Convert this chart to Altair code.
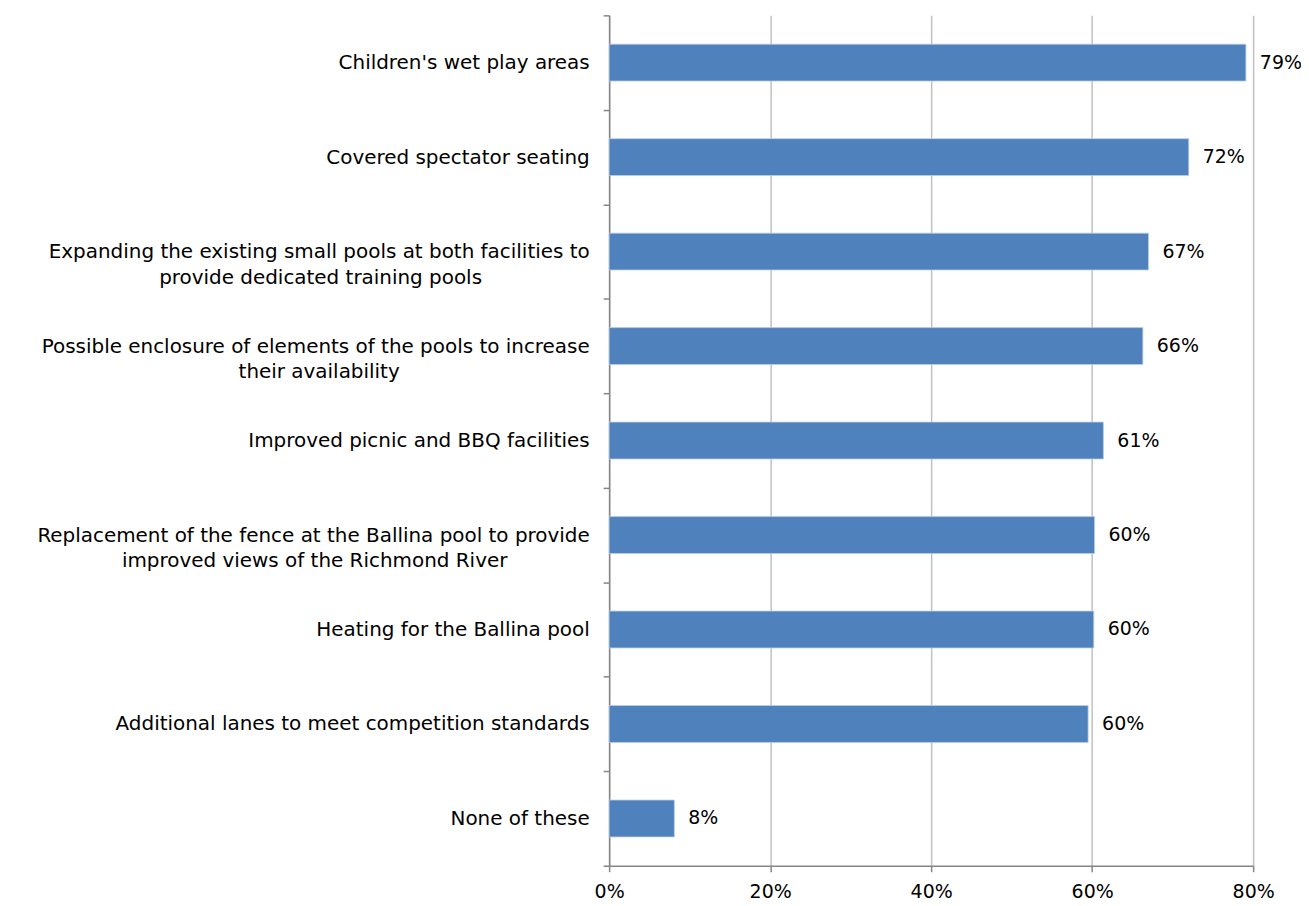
import altair as alt
import pandas as pd

categories = [
    "Children's wet play areas",
    "Covered spectator seating",
    "Expanding the existing small pools at both facilities to\nprovide dedicated training pools",
    "Possible enclosure of elements of the pools to increase\ntheir availability",
    "Improved picnic and BBQ facilities",
    "Replacement of the fence at the Ballina pool to provide\nimproved views of the Richmond River",
    "Heating for the Ballina pool",
    "Additional lanes to meet competition standards",
    "None of these",
]
values = [0.791, 0.720, 0.670, 0.663, 0.614, 0.603, 0.602, 0.595, 0.081]

# number of no-break spaces appended to a second line so that the
# right-aligned axis label looks centred under its first line (styling only)
second_line_pad = [0, 0, 17, 30, 0, 13, 0, 0, 0]

FONT = "DejaVu Sans"
FS = 20
VFS = 19


def build_label(label, pad):
    lines = label.split("\n")
    if len(lines) == 1:
        return label
    out = [lines[0]] + [ln + "\u00a0" * pad + "\u200b" for ln in lines[1:]]
    return "|".join(out)


df = pd.DataFrame({
    "label": [build_label(c, p) for c, p in zip(categories, second_line_pad)],
    "value": values,
})
order = list(df["label"])

y_enc = alt.Y(
    "label:N",
    sort=order,
    scale=alt.Scale(paddingInner=0, paddingOuter=0),
    axis=alt.Axis(
        title=None,
        labelExpr="split(datum.label, '|')",
        labelFont=FONT,
        labelFontSize=FS,
        labelColor="#000000",
        labelPadding=14,
        labelLimit=700,
        labelLineHeight=26,
        tickBand="extent",
        ticks=True,
        tickSize=6,
        tickColor="#868686",
        tickWidth=1.5,
        domainColor="#868686",
        domainWidth=1.5,
        grid=False,
    ),
)

x_enc = alt.X(
    "value:Q",
    scale=alt.Scale(domain=[0, 0.8], nice=False),
    axis=alt.Axis(
        title=None,
        format=".0%",
        values=[0, 0.2, 0.4, 0.6, 0.8],
        labelFont=FONT,
        labelFontSize=19,
        labelColor="#000000",
        labelPadding=11,
        labelFlush=False,
        tickSize=6,
        tickColor="#868686",
        tickWidth=1.5,
        domainColor="#868686",
        domainWidth=1.5,
        grid=True,
        gridColor="#c0c0c0",
        gridWidth=1.5,
    ),
)

bars = alt.Chart(df).mark_bar(
    color="#4f81bd", stroke="#b9cde5", strokeWidth=0.8, size=37
).encode(x=x_enc, y=y_enc)

texts = alt.Chart(df).mark_text(
    align="left", baseline="middle", dx=14, font=FONT, fontSize=VFS, color="#000000"
).encode(
    x=alt.X("value:Q"),
    y=alt.Y("label:N", sort=order),
    text=alt.Text("value:Q", format=".0%"),
)

chart = (
    alt.layer(bars, texts)
    .properties(
        width=646,
        height=853,
        autosize=alt.AutoSizeParams(type="none"),
        padding={"left": 603, "top": 6, "right": 48, "bottom": 34},
        background="white",
    )
    .configure_view(stroke=None)
)

chart.save("out.html", embed_options={"renderer": "svg", "actions": False})
